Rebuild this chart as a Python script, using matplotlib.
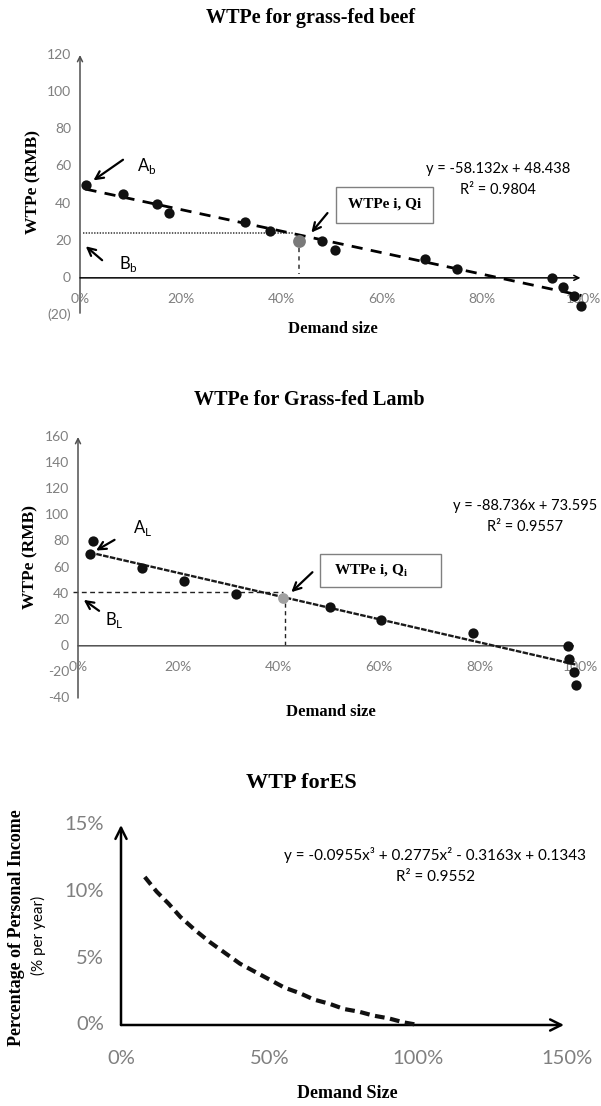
import numpy as np
import matplotlib
matplotlib.use('Agg')
import matplotlib.pyplot as plt
import matplotlib.transforms as mtransforms
from matplotlib.patches import Rectangle

plt.rcParams['mathtext.fontset'] = 'custom'
plt.rcParams['mathtext.rm'] = 'Lato'
plt.rcParams['mathtext.bf'] = 'Liberation Serif:bold'
plt.rcParams['lines.scale_dashes'] = False

SANS = ['Lato', 'DejaVu Sans']
SERIF = ['Liberation Serif', 'DejaVu Serif']
GRAY = '#7f7f7f'

# ---- data ----
# grass-fed beef
beef_share = [0.011, 0.085, 0.154, 0.176, 0.329, 0.378, 0.481, 0.506, 0.685, 0.749, 0.938, 0.960, 0.982, 0.997]
beef_wtp = [50, 45, 40, 35, 30, 25, 20, 15, 10, 5, 0, -5, -10, -15]
beef_qi, beef_wtpi = 0.436, 20
beef_line_wtp = 24
beef_slope, beef_icpt = -58.132, 48.438
beef_yticks = [-20, 0, 20, 40, 60, 80, 100, 120]
beef_ylabels = ['(20)', '0', '20', '40', '60', '80', '100', '120']

pct_ticks = [0, 0.2, 0.4, 0.6, 0.8, 1.0]
pct_labels = ['0%', '20%', '40%', '60%', '80%', '100%']

# grass-fed lamb
lamb_share = [0.029, 0.023, 0.128, 0.211, 0.314, 0.502, 0.604, 0.787, 0.977, 0.978, 0.988, 0.993]
lamb_wtp = [80, 70, 60, 50, 40, 30, 20, 10, 0, -10, -20, -30]
lamb_qi, lamb_wtpi = 0.408, 37
lamb_line_wtp = 41.4
lamb_slope, lamb_icpt = -88.736, 73.595
lamb_yticks = [-40, -20, 0, 20, 40, 60, 80, 100, 120, 140, 160]
lamb_ylabels = [str(v) for v in lamb_yticks]

# WTP for ES (curve read along the dashed trendline)
es_share = [0.08, 0.12, 0.16, 0.20, 0.25, 0.30, 0.35, 0.40, 0.45, 0.50, 0.55,
            0.60, 0.65, 0.70, 0.75, 0.80, 0.85, 0.90, 0.95, 1.00]
es_wtp = [0.111, 0.100, 0.091, 0.081, 0.071, 0.062, 0.054, 0.046, 0.040, 0.034, 0.028,
          0.024, 0.019, 0.016, 0.012, 0.010, 0.007, 0.005, 0.002, 0.000]
es_xticks = [0, 0.5, 1.0, 1.5]
es_xlabels = ['0%', '50%', '100%', '150%']
es_yticks = [0, 0.05, 0.10, 0.15]
es_ylabels = ['0%', '5%', '10%', '15%']

W, H = 601, 1106
fig = plt.figure(figsize=(W / 100, H / 100), dpi=100)


def px_axes(x0, x1, y_bot, y_top):
    return fig.add_axes([x0 / W, 1 - y_bot / H, (x1 - x0) / W, (y_bot - y_top) / H])


def ftext(x, y, s, **kw):
    fig.text(x / W, 1 - y / H, s, ha='center', va='center', **kw)


def tick_labels(ax, xt, xl, yt, yl, xdy, ydx, size):
    tx = mtransforms.offset_copy(ax.transData, fig=fig, x=0, y=-xdy, units='dots')
    for v, s in zip(xt, xl):
        ax.text(v, 0, s, transform=tx, ha='center', va='center', color=GRAY,
                fontsize=size, family=SANS)
    ty = mtransforms.offset_copy(ax.transData, fig=fig, x=-ydx, y=0, units='dots')
    for v, s in zip(yt, yl):
        ax.text(0, v, s, transform=ty, ha='right', va='center', color=GRAY,
                fontsize=size, family=SANS)


def arrow(ax, start, end, color='black', lw=1.0, style='->', ms=10, z=3):
    ax.annotate('', xy=end, xytext=start, annotation_clip=False, zorder=z,
                arrowprops=dict(arrowstyle=style, color=color, lw=lw, shrinkA=0,
                                shrinkB=0, mutation_scale=ms))


# ================= beef =================
ax1 = px_axes(80, 583, 315, 55)
ax1.set_xlim(0, 1.0)
ax1.set_ylim(-20, 120)
ax1.axis('off')
arrow(ax1, (0, -19), (0, 120), color='#505050', lw=1.1, ms=9)
arrow(ax1, (0, 0), (0.995, 0), color='black', lw=1.1, ms=9)
tick_labels(ax1, pct_ticks, pct_labels, beef_yticks, beef_ylabels, 21, 9, 10)

bx = np.array([min(beef_share), max(beef_share)])
ax1.plot(bx, beef_slope * bx + beef_icpt, color='black', lw=2.0, dashes=(8, 6), zorder=3, clip_on=False)
ax1.scatter(beef_share, beef_wtp, s=55, color='#111111', zorder=4, clip_on=False, linewidths=0)
ax1.scatter([beef_qi], [beef_wtpi], s=85, color='#7a7a7a', zorder=4, linewidths=0)
ax1.plot([0.005, beef_qi - 0.01], [beef_line_wtp, beef_line_wtp], color='#333333', lw=1.1, ls=(0, (1, 1)))
ax1.plot([beef_qi, beef_qi], [16, 2], color='#333333', lw=1.1, dashes=(3, 3))

arrow(ax1, (0.0855, 63.6), (0.0267, 52.5), lw=1.6, ms=14)
ax1.text(0.113, 60.5, r'A$_\mathrm{b}$', fontsize=12, family=SANS, ha='left', va='center')
arrow(ax1, (0.044, 9.5), (0.0115, 17), lw=1.6, ms=14)
ax1.text(0.078, 7.7, r'B$_\mathrm{b}$', fontsize=12, family=SANS, ha='left', va='center')
ax1.add_patch(Rectangle((0.508, 29.5), 0.193, 19.4, fill=False, edgecolor='#808080', lw=1.0))
ax1.text(0.605, 39.6, 'WTPe i, Qi', fontsize=11, family=SERIF, weight='bold', ha='center', va='center')
arrow(ax1, (0.492, 34.9), (0.46, 24.4), lw=1.6, ms=14)
ax1.text(0.831, 58.7, 'y = -58.132x + 48.438', fontsize=10.5, family=SANS, ha='center', va='center')
ax1.text(0.831, 47.4, 'R² = 0.9804', fontsize=10.5, family=SANS, ha='center', va='center')

ftext(311, 18, 'WTPe for grass-fed beef', fontsize=14.5, family=SERIF, weight='bold')
ftext(33, 182, 'WTPe (RMB)', fontsize=12.5, family=SERIF, weight='bold', rotation=90)
ftext(333, 329, 'Demand size', fontsize=12, family=SERIF, weight='bold')

# ================= lamb =================
ax2 = px_axes(78, 580, 698, 437)
ax2.set_xlim(0, 1.0)
ax2.set_ylim(-40, 160)
ax2.axis('off')
arrow(ax2, (0, -40), (0, 160), color='#505050', lw=1.1, ms=9)
arrow(ax2, (0, 0), (0.99, 0), color='#505050', lw=1.1, style='-|>', ms=12)
tick_labels(ax2, pct_ticks, pct_labels, lamb_yticks, lamb_ylabels, 21, 9, 10)

lx = np.array([min(lamb_share), max(lamb_share)])
ax2.plot(lx, lamb_slope * lx + lamb_icpt, color='#1a1a1a', lw=1.7, dashes=(4, 1.0), zorder=3, clip_on=False)
ax2.scatter(lamb_share, lamb_wtp, s=55, color='#111111', zorder=4, clip_on=False, linewidths=0)
ax2.scatter([lamb_qi], [lamb_wtpi], s=60, color='#a0a0a0', zorder=4, linewidths=0)
ax2.plot([-0.01, lamb_qi], [lamb_line_wtp, lamb_line_wtp], color='#222222', lw=1.0, dashes=(3.5, 2.5), clip_on=False)
ax2.plot([lamb_qi + 0.004, lamb_qi + 0.004], [33, 0], color='#222222', lw=1.0, dashes=(3, 2.5))

arrow(ax2, (0.0728, 81.2), (0.036, 73), lw=1.6, ms=14)
ax2.text(0.109, 90.2, r'A$_\mathrm{L}$', fontsize=12, family=SANS, ha='left', va='center')
arrow(ax2, (0.042, 26.8), (0.0115, 35.2), lw=1.6, ms=14)
ax2.text(0.053, 19.4, r'B$_\mathrm{L}$', fontsize=12, family=SANS, ha='left', va='center')
ax2.add_patch(Rectangle((0.482, 45), 0.241, 25.5, fill=False, edgecolor='#808080', lw=1.0))
ax2.text(0.584, 57.5, r'WTPe i, Q$_\mathbf{i}$', fontsize=11, family=SERIF, weight='bold', ha='center', va='center')
arrow(ax2, (0.467, 56.4), (0.425, 41.1), lw=1.6, ms=14)
ax2.text(0.89, 106.8, 'y = -88.736x + 73.595', fontsize=10.5, family=SANS, ha='center', va='center')
ax2.text(0.89, 90.9, 'R² = 0.9557', fontsize=10.5, family=SANS, ha='center', va='center')

ftext(309, 400, 'WTPe for Grass-fed Lamb', fontsize=14.5, family=SERIF, weight='bold')
ftext(30, 557, 'WTPe (RMB)', fontsize=12.5, family=SERIF, weight='bold', rotation=90)
ftext(331, 712, 'Demand size', fontsize=12, family=SERIF, weight='bold')

# ================= ES =================
ax3 = px_axes(121, 567, 1025, 825)
ax3.set_xlim(0, 1.5)
ax3.set_ylim(0, 0.15)
ax3.axis('off')
arrow(ax3, (0, 0), (0, 0.15), lw=1.8, ms=20)
arrow(ax3, (0, 0), (1.49, 0), lw=1.8, ms=20)
tick_labels(ax3, es_xticks, es_xlabels, es_yticks, es_ylabels, 33, 17, 14.5)

ax3.plot(es_share, es_wtp, color='#111111', lw=3.0, dashes=(7, 4), zorder=3, clip_on=False)
ax3.text(1.057, 0.1274, 'y = -0.0955x³ + 0.2775x² - 0.3163x + 0.1343', fontsize=11,
         family=SANS, ha='center', va='center')
ax3.text(1.057, 0.111, 'R² = 0.9552', fontsize=11, family=SANS, ha='center', va='center')

ftext(301, 783, 'WTP forES', fontsize=16, family=SERIF, weight='bold')
ftext(17, 928, 'Percentage of Personal Income', fontsize=13, family=SERIF, weight='bold', rotation=90)
ftext(38, 935, '(% per year)', fontsize=11, family=SANS, rotation=90)
ftext(347, 1093, 'Demand Size', fontsize=13, family=SERIF, weight='bold')

fig.savefig('out.png', dpi=100)
